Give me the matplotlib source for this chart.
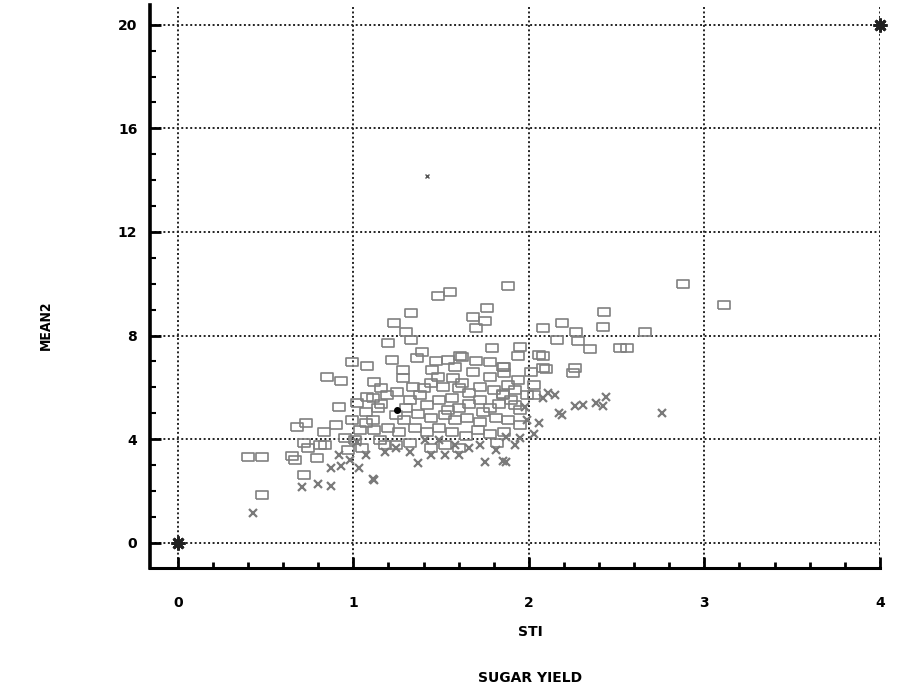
import numpy as np
import matplotlib
matplotlib.use("Agg")
from matplotlib import pyplot as plt
from matplotlib.ticker import MultipleLocator

# open squares (MEAN2 vs STI)
sq_x = [1.48, 1.55, 1.88, 2.88, 3.11, 1.33, 1.23, 1.30, 1.33, 1.68, 1.76, 1.75, 1.70,
        2.43, 2.42, 2.19, 2.08, 2.27, 2.66, 2.16, 2.28, 2.35, 2.52, 2.56, 1.95, 1.94,
        2.08, 2.10, 2.26, 2.25, 1.86, 1.86, 1.94, 1.85, 1.79, 1.61, 1.54, 1.39, 1.36,
        1.20, 1.22, 1.28, 1.45, 1.48, 1.28, 1.16, 1.08, 1.14, 0.99, 1.08, 0.85, 0.93,
        0.92, 0.68, 0.73, 1.32, 0.40, 0.48, 0.65, 0.67, 0.79, 0.72, 0.48, 0.83, 0.81,
        0.72, 0.74, 0.84, 1.18, 1.07, 1.12, 1.11, 1.62, 1.78, 1.85, 2.06, 2.08, 2.03,
        1.44, 1.51, 1.62, 1.66, 1.78, 1.85, 1.19, 1.25, 1.32, 1.38, 1.42, 1.49, 1.56,
        1.60, 1.66, 1.72, 1.78, 1.83, 1.90, 1.95, 1.99, 2.03, 2.01, 1.92, 1.24, 1.29,
        1.37, 1.44, 1.52, 1.58, 1.65, 1.72, 1.81, 1.88, 1.95, 1.20, 1.26, 1.35, 1.42,
        1.49, 1.56, 1.64, 1.71, 1.78, 1.86, 1.11, 1.15, 1.24, 1.04, 0.99, 1.07, 1.01,
        0.95, 0.90, 0.97, 1.05, 1.52, 1.60, 1.44, 1.82, 1.34, 1.57, 1.68, 1.72, 1.60,
        1.40, 1.70, 1.47, 1.58, 1.88, 1.80, 1.12, 1.02, 1.30, 1.54, 1.74, 1.92, 1.16]
sq_y = [9.54, 9.69, 9.92, 10.0, 9.19, 8.88, 8.49, 8.15, 7.84, 8.73, 9.07, 8.57, 8.30,
        8.92, 8.34, 8.49, 8.30, 8.15, 8.15, 7.84, 7.80, 7.49, 7.53, 7.53, 7.57, 7.22,
        7.22, 6.72, 6.76, 6.56, 6.80, 6.56, 6.29, 5.75, 7.53, 7.22, 7.07, 7.37, 7.14,
        7.72, 7.07, 6.68, 6.68, 6.41, 6.37, 5.98, 5.64, 5.21, 6.99, 6.83, 6.41, 6.25,
        5.25, 4.48, 4.63, 3.86, 3.32, 3.32, 3.36, 3.20, 3.28, 2.63, 1.85, 4.29, 3.78,
        3.86, 3.67, 3.78, 3.78, 4.63, 4.36, 5.60, 7.18, 6.99, 6.80, 7.26, 6.76, 5.71,
        6.18, 6.02, 6.18, 5.79, 6.41, 5.71, 5.71, 5.83, 5.52, 5.71, 5.33, 5.52, 5.60,
        5.21, 5.37, 5.52, 5.21, 5.37, 5.52, 5.14, 5.71, 6.10, 6.60, 5.90, 4.94, 4.75,
        4.98, 4.83, 4.94, 4.75, 4.83, 4.67, 4.83, 4.75, 4.56, 4.44, 4.29, 4.44, 4.29,
        4.44, 4.29, 4.13, 4.36, 4.21, 4.29, 4.75, 3.98, 3.78, 4.36, 4.75, 5.06, 3.98,
        4.05, 4.56, 3.59, 3.67, 3.78, 3.67, 3.67, 3.86, 6.02, 6.37, 6.60, 6.02, 5.98,
        5.98, 7.00, 7.00, 6.80, 6.10, 5.90, 6.22, 5.41, 5.21, 5.14, 5.06, 5.33, 5.37]

# grey star / cross markers
st_x = [2.11, 2.15, 2.44, 2.26, 2.31, 2.38, 2.42, 2.76, 2.17, 2.19, 1.98, 1.99, 1.87,
        1.85, 1.37, 1.75, 1.87, 1.11, 1.60, 0.87, 0.71, 0.87, 0.43, 1.03, 1.12, 1.49,
        1.58, 1.66, 1.18, 1.24, 1.32, 1.41, 1.72, 1.81, 1.92, 1.07, 0.98, 0.92, 1.52,
        1.44, 2.06, 2.03, 1.95, 2.08, 1.02, 0.93, 0.80]
st_y = [5.79, 5.71, 5.64, 5.29, 5.33, 5.41, 5.29, 5.02, 5.02, 4.94, 5.25, 4.75, 4.09,
        3.17, 3.09, 3.13, 3.13, 2.47, 3.40, 2.90, 2.16, 2.20, 1.16, 2.90, 2.43, 3.98,
        3.78, 3.67, 3.51, 3.67, 3.51, 3.98, 3.78, 3.59, 3.78, 3.40, 3.20, 3.40, 3.40,
        3.40, 4.63, 4.21, 4.05, 5.60, 3.90, 2.95, 2.25]

# dark marks
corner_x = [0, 4]
corner_y = [0, 20]
dot_x = [1.25]
dot_y = [5.14]
stray_x = [1.42]
stray_y = [14.17]

xticks = [0, 1, 2, 3, 4]
yticks = [0, 4, 8, 12, 16, 20]

fig = plt.figure(figsize=(9.08, 6.95), dpi=100)
ax = fig.add_axes([0.165, 0.183, 0.804, 0.81])

rect = [(-1.35, -1), (1.35, -1), (1.35, 1), (-1.35, 1), (-1.35, -1)]
ax.plot(sq_x, sq_y, ls='none', marker=rect, ms=8, mfc='none', mec='#808080', mew=1.2)
ax.plot(st_x, st_y, ls='none', marker='x', ms=5.5, color='#7a7a7a', mew=1.6)
ax.plot(corner_x, corner_y, ls='none', marker=(8, 2, 0), ms=10, color='#222222', mew=2,
        clip_on=False)
ax.plot(dot_x, dot_y, ls='none', marker='o', ms=4, color='k')
ax.plot(stray_x, stray_y, ls='none', marker='x', ms=3, color='#555555', mew=1)

ax.set_xlim(-0.16, 4.0)
ax.set_ylim(-0.97, 20.77)
ax.set_xticks(xticks)
ax.set_yticks(yticks)
ax.xaxis.set_minor_locator(MultipleLocator(0.2))
ax.yaxis.set_minor_locator(MultipleLocator(1))

ax.grid(True, which='major', color='#222222', linestyle=(0, (1, 1.3)), lw=1.4)
ax.set_axisbelow(True)

for s in ['top', 'right']:
    ax.spines[s].set_visible(False)
ax.spines['left'].set_linewidth(2.6)
ax.spines['bottom'].set_linewidth(2.2)

ax.tick_params(axis='x', which='major', direction='in', length=8, width=2, pad=20)
ax.tick_params(axis='x', which='minor', direction='in', length=4, width=2)
ax.tick_params(axis='y', which='major', direction='in', length=8, width=2, pad=9)
ax.tick_params(axis='y', which='minor', direction='in', length=4, width=1.5)
for lab in ax.get_xticklabels() + ax.get_yticklabels():
    lab.set_fontweight('heavy')
    lab.set_fontsize(10)

fig.text(0.05, 0.532, 'MEAN2', rotation=90, ha='center', va='center',
         fontsize=10, fontweight='bold', fontstretch='condensed')
fig.text(0.584, 0.09, 'STI', ha='center', va='center', fontsize=10, fontweight='bold')
fig.text(0.584, 0.025, 'SUGAR YIELD', ha='center', va='center', fontsize=10,
         fontweight='bold')

fig.savefig('out.png', dpi=100)
